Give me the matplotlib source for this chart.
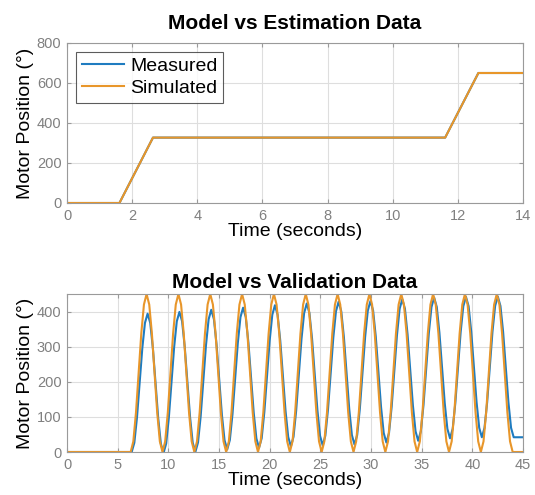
import numpy as np
import matplotlib
matplotlib.use("Agg")
import matplotlib.pyplot as plt

# ---------------- data: estimation (top) ----------------
est_time = [0.0, 1.61, 2.64, 11.61, 12.63, 14.0]
est_measured = [0, 0, 327, 327, 650, 650]
est_simulated = [0, 0, 327, 327, 650, 650]

# ---------------- data: validation (bottom) ----------------
# samples every pi/12 s starting at t = 2*pi, before that the signals are 0
val_t_start = 6.2832
val_t_step = 0.2618
val_meas_lag = 0.10

val_simulated = [
    0, 30.1, 112.5, 225, 337.5, 419.9, 450, 419.9, 337.5, 225, 112.5, 30.1,
    0, 30.1, 112.5, 225, 337.5, 419.9, 450, 419.9, 337.5, 225, 112.5, 30.1,
    0, 30.1, 112.5, 225, 337.5, 419.9, 450, 419.9, 337.5, 225, 112.5, 30.1,
    0, 30.1, 112.5, 225, 337.5, 419.9, 450, 419.9, 337.5, 225, 112.5, 30.1,
    0, 30.1, 112.5, 225, 337.5, 419.9, 450, 419.9, 337.5, 225, 112.5, 30.1,
    0, 30.1, 112.5, 225, 337.5, 419.9, 450, 419.9, 337.5, 225, 112.5, 30.1,
    0, 30.1, 112.5, 225, 337.5, 419.9, 450, 419.9, 337.5, 225, 112.5, 30.1,
    0, 30.1, 112.5, 225, 337.5, 419.9, 450, 419.9, 337.5, 225, 112.5, 30.1,
    0, 30.1, 112.5, 225, 337.5, 419.9, 450, 419.9, 337.5, 225, 112.5, 30.1,
    0, 30.1, 112.5, 225, 337.5, 419.9, 450, 419.9, 337.5, 225, 112.5, 30.1,
    0, 30.1, 112.5, 225, 337.5, 419.9, 450, 419.9, 337.5, 225, 112.5, 30.1,
    0, 30.1, 112.5, 225, 337.5, 419.9, 450, 419.9, 337.5, 225, 112.5, 30.1,
    0,
]

val_measured = [
    0, 26.4, 98.5, 197, 295.5, 367.6, 394, 367.4, 294.8, 195.5, 96.3, 23.6,
    -3, 23.9, 97.5, 198, 298.5, 372.1, 399, 372.3, 299.3, 199.5, 99.8, 26.7,
    0, 27.1, 101.3, 202.5, 303.8, 377.9, 405, 378.3, 305.5, 206, 106.5, 33.7,
    7, 34.1, 108, 209, 310, 383.9, 411, 384.3, 311.3, 211.5, 111.8, 38.7,
    12, 39.2, 113.5, 215, 316.5, 390.8, 418, 391.1, 317.5, 217, 116.5, 42.9,
    16, 43.3, 117.8, 219.5, 321.3, 395.7, 423, 395.9, 322, 221, 120, 46.1,
    19, 46.4, 121.3, 223.5, 325.8, 400.6, 428, 400.7, 326.3, 224.5, 122.8, 48.3,
    21, 48.4, 123.3, 225.5, 327.8, 402.6, 430, 403, 329.3, 228.5, 127.8, 54,
    27, 54.3, 129, 231, 333, 407.7, 435, 408, 334.3, 233.5, 132.8, 59,
    32, 59.3, 134, 236, 338, 412.7, 440, 413.1, 339.8, 239.5, 139.3, 65.9,
    39, 66, 139.8, 240.5, 341.3, 415, 442, 415.2, 342, 242, 142, 68.8,
    42, 68.9, 142.3, 242.5, 342.8, 416.1, 443, 416.1, 342.8, 242.5, 142.3, 68.9,
    42,
]
val_end_time = 45.0
val_meas_end = 42
val_sim_end = 0

# ---------------- style ----------------
BLUE = "#1f7cc0"
ORANGE = "#e8962a"
GRAY = "#808080"
FONT = ["Liberation Sans", "DejaVu Sans"]
plt.rcParams["font.family"] = FONT

W, H = 535, 495
L, R = 67, 523
fig = plt.figure(figsize=(W / 100, H / 100), dpi=100)
ax1 = fig.add_axes([L / W, 1 - 203 / H, (R - L) / W, 160 / H])
ax2 = fig.add_axes([L / W, 1 - 452 / H, (R - L) / W, 158 / H])


def style(ax):
    ax.grid(True, color="#dedede", lw=0.8)
    ax.set_axisbelow(True)
    for s in ax.spines.values():
        s.set_color("#9a9a9a")
        s.set_linewidth(0.8)
    ax.tick_params(direction="in", top=True, right=True, length=3,
                   color="#9a9a9a", labelcolor=GRAY, labelsize=10.5, pad=4)


# top
ax1.plot(est_time, est_measured, color=BLUE, lw=1.5, label="Measured")
ax1.plot(est_time, est_simulated, color=ORANGE, lw=1.5, label="Simulated")
ax1.set_xlim(0, 14)
ax1.set_ylim(0, 800)
ax1.set_xticks(np.arange(0, 15, 2))
ax1.set_yticks(np.arange(0, 801, 200))
style(ax1)
ax1.set_title("Model vs Estimation Data", fontsize=15, fontweight="bold", pad=10)
ax1.set_xlabel("Time (seconds)", fontsize=14, labelpad=0)
ax1.set_ylabel("Motor Position (°)", fontsize=14, labelpad=2)
leg = ax1.legend(loc="upper left", fontsize=14, frameon=True, fancybox=False,
                 edgecolor="#333333", handlelength=2.2, handletextpad=0.3,
                 borderpad=0.3, labelspacing=0.2, borderaxespad=0.45)
leg.get_frame().set_linewidth(0.8)

# bottom
n_sim = len(val_simulated)
n_meas = len(val_measured)
t_sim = val_t_start + val_t_step * np.arange(n_sim)
t_meas = val_t_start + val_meas_lag + val_t_step * np.arange(n_meas)
t_sim_full = np.concatenate([[0.0], t_sim, [val_end_time]])
y_sim_full = np.concatenate([[0.0], val_simulated, [val_sim_end]])
t_meas_full = np.concatenate([[0.0, val_t_start], t_meas, [val_end_time]])
y_meas_full = np.concatenate([[0.0, 0.0], val_measured, [val_meas_end]])

ax2.plot(t_meas_full, y_meas_full, color=BLUE, lw=1.5, label="Measured")
ax2.plot(t_sim_full, y_sim_full, color=ORANGE, lw=1.5, label="Simulated")
ax2.set_xlim(0, 45)
ax2.set_ylim(0, 450)
ax2.set_xticks(np.arange(0, 46, 5))
ax2.set_yticks(np.arange(0, 401, 100))
style(ax2)
ax2.set_title("Model vs Validation Data", fontsize=15, fontweight="bold", pad=4)
ax2.set_xlabel("Time (seconds)", fontsize=14, labelpad=0)
ax2.set_ylabel("Motor Position (°)", fontsize=14, labelpad=2)

fig.savefig("out.png", dpi=100)
